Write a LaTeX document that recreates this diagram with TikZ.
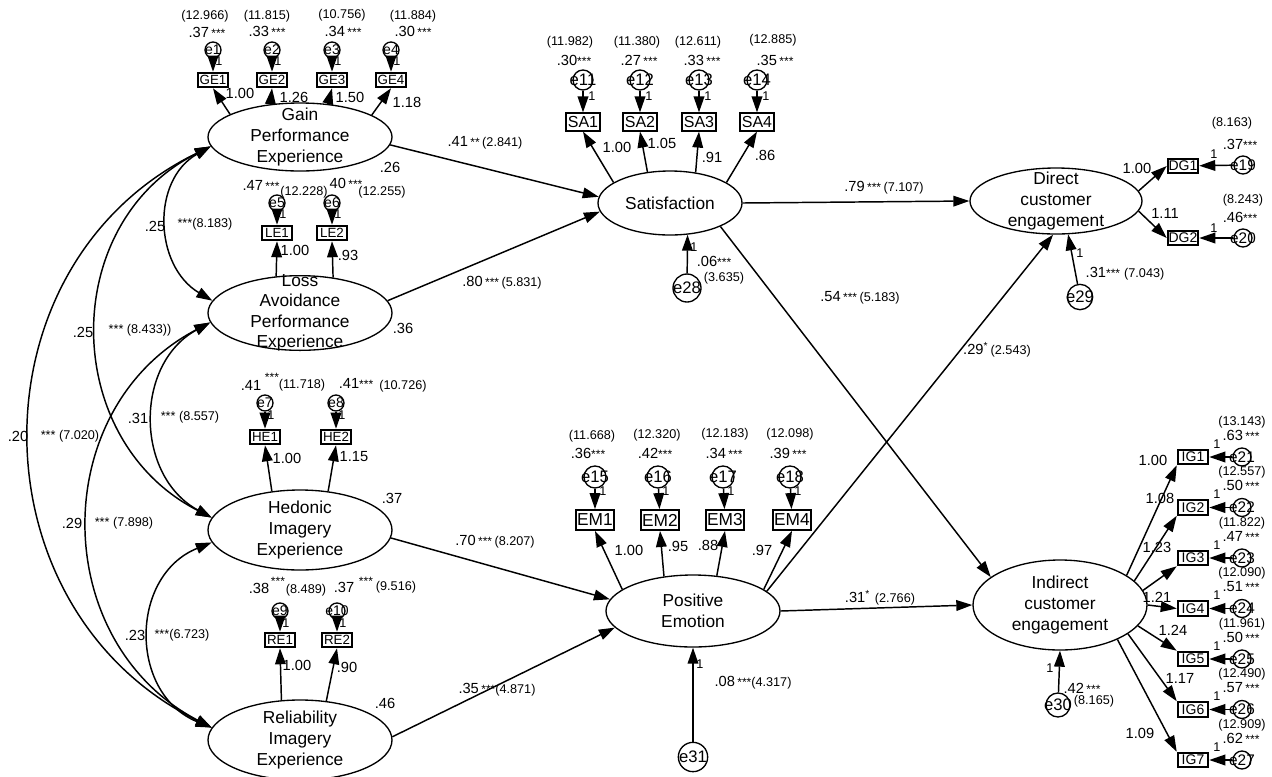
\documentclass[tikz,border=0pt]{standalone}
\usepackage{fontspec}
\setmainfont{Liberation Sans}
\usetikzlibrary{arrows.meta,shapes.geometric}
\newcommand\myfa{\fontsize{11}{13}\selectfont}
\newcommand\myfp{\fontsize{9.5}{11}\selectfont}
\newcommand\mystars{{\fontsize{9}{9}\selectfont ***}}
\begin{document}
\begin{tikzpicture}[x=0.75pt,y=-0.75pt,
 lat/.style={ellipse,draw,line width=1pt,inner sep=0pt},
 lt/.style={font=\fontsize{13}{15.4}\selectfont,align=center,inner sep=0pt},
 obs/.style={draw,line width=1.4pt,inner sep=0pt},
 gs/.style={obs,minimum width=23pt,minimum height=11pt,font=\fontsize{10}{10}\selectfont},
 sb/.style={obs,minimum width=26pt,minimum height=13pt,font=\fontsize{12}{12}\selectfont},
 eb/.style={obs,minimum width=28pt,minimum height=15pt,font=\fontsize{13}{13}\selectfont},
 ib/.style={obs,minimum width=23pt,minimum height=11pt,font=\fontsize{10.5}{10.5}\selectfont},
 err/.style={circle,draw,line width=1pt,inner sep=0pt},
 et/.style={inner sep=0pt},
 arr/.style={line width=1.1pt,-{Triangle[length=12pt,width=8pt]}},
 darr/.style={line width=1.1pt,{Triangle[length=12pt,width=8pt]}-{Triangle[length=12pt,width=8pt]}},
 ld/.style={font=\myfa,inner sep=0.5pt},
 pl/.style={font=\myfp,inner sep=0.5pt},
 one/.style={font=\fontsize{9.5}{10}\selectfont,inner sep=0pt}]
\fill[white] (0,0) rectangle (1272,776);
\useasboundingbox (0,0) rectangle (1272,776);

% latent variables
\node[lat,minimum width=138pt,minimum height=51pt,label={[lt]center:Gain\\Performance\\Experience}] (gain) at (300,137) {};
\node[lat,minimum width=138pt,minimum height=56pt,label={[lt]center:Loss\\Avoidance\\Performance\\Experience}] (loss) at (300,313) {};
\node[lat,minimum width=138pt,minimum height=60pt,label={[lt]center:Hedonic\\Imagery\\Experience}] (hed) at (300,530) {};
\node[lat,minimum width=138pt,minimum height=60pt,label={[lt]center:Reliability\\Imagery\\Experience}] (rel) at (300,740) {};
\node[lat,minimum width=108pt,minimum height=48pt,label={[lt]center:Satisfaction}] (sat) at (670,203) {};
\node[lat,minimum width=130.5pt,minimum height=54pt,label={[lt]center:Positive\\Emotion}] (pe) at (693,611) {};
\node[lat,minimum width=129pt,minimum height=49.5pt,label={[lt]center:Direct\\customer\\engagement}] (direct) at (1056,201) {};
\node[lat,minimum width=130.5pt,minimum height=67.5pt,label={[lt]center:Indirect\\customer\\engagement}] (ind) at (1060,605) {};

% GE indicators
\foreach \n/\x in {1/213,2/272,3/332,4/391}{
 \node[gs] (GE\n) at (\x,80) {GE\n};
 \node[err,minimum size=12pt,label={[et,font=\fontsize{10.5}{10.5}\selectfont]center:e\n}] (e\n) at (\x,50) {};
 \draw[arr] (e\n) -- (GE\n);
 \node[one] (oG\n) at (\x+6,61) {1};
}
\draw[arr] (gain.162) -- (GE1.south);
\draw[arr] (gain.132) -- (GE2.south);
\draw[arr] (gain.50) -- (GE3.south);
\draw[arr] (gain.17) -- (GE4.south);
\node[pl] (p1) at (205,16) {(12.966)};
\node[ld] (v1) at (207,32) {.37\,\mystars};
\node[pl] (p2) at (267,16) {(11.815)};
\node[ld] (v2) at (267,31) {.33\,\mystars};
\node[pl] (p3) at (342,15) {(10.756)};
\node[ld] (v3) at (343,31) {.34\,\mystars};
\node[pl] (p4) at (413,16) {(11.884)};
\node[ld] (v4) at (413,31) {.30\,\mystars};
\node[ld] (w1) at (240,93) {1.00};
\node[ld] (w2) at (294,97) {1.26};
\node[ld] (w3) at (350,97) {1.50};
\node[ld] (w4) at (407,102) {1.18};

% LE indicators
\node[gs] (LE1) at (277,233) {LE1};
\node[gs] (LE2) at (332,233) {LE2};
\node[err,minimum size=12pt,label={[et,font=\fontsize{10.5}{10.5}\selectfont]center:e5}] (e5) at (277,203) {};
\node[err,minimum size=12pt,label={[et,font=\fontsize{10.5}{10.5}\selectfont]center:e6}] (e6) at (332,203) {};
\draw[arr] (e5) -- (LE1);
\draw[arr] (e6) -- (LE2);
\draw[arr] (loss.123) -- (LE1.south);
\draw[arr] (loss.47) -- (LE2.south);
\node[one] (oL1) at (283,214) {1};
\node[one] (oL2) at (338,214) {1};
\node[ld] (v5) at (261,185) {.47\,\mystars};
\node[pl] (p5) at (304,192) {(12.228)};
\node[ld] (v6) at (346,183) {40\,\mystars};
\node[pl] (p6) at (382,192) {(12.255)};
\node[ld] (w5) at (295,250) {1.00};
\node[ld] (w6) at (348,255) {.93};

% HE indicators
\node[gs] (HE1) at (265,437) {HE1};
\node[gs] (HE2) at (336,437) {HE2};
\node[err,minimum size=12pt,label={[et,font=\fontsize{10.5}{10.5}\selectfont]center:e7}] (e7) at (265,403) {};
\node[err,minimum size=12pt,label={[et,font=\fontsize{10.5}{10.5}\selectfont]center:e8}] (e8) at (336,403) {};
\draw[arr] (e7) -- (HE1);
\draw[arr] (e8) -- (HE2);
\draw[arr] (hed.126) -- (HE1.south);
\draw[arr] (hed.54) -- (HE2.south);
\node[one] (oH1) at (271,415) {1};
\node[one] (oH2) at (342,415) {1};
\node[ld] (v7) at (251,385) {.41};
\node[ld] (s7) at (272,377) {\mystars};
\node[pl] (p7) at (302,385) {(11.718)};
\node[ld] (v8) at (356,383) {.41\mystars};
\node[pl] (p8) at (403,386) {(10.726)};
\node[ld] (w7) at (287,458) {1.00};
\node[ld] (w8) at (354,457) {1.15};

% RE indicators
\node[gs] (RE1) at (280,640) {RE1};
\node[gs] (RE2) at (337,640) {RE2};
\node[err,minimum size=12pt,label={[et,font=\fontsize{10.5}{10.5}\selectfont]center:e9}] (e9) at (280,611) {};
\node[err,minimum size=12pt,label={[et,font=\fontsize{10.5}{10.5}\selectfont]center:e10}] (e10) at (337,611) {};
\draw[arr] (e9) -- (RE1);
\draw[arr] (e10) -- (RE2);
\draw[arr] (rel.115) -- (RE1.south);
\draw[arr] (rel.56) -- (RE2.south);
\node[one] (oR1) at (286,623) {1};
\node[one] (oR2) at (343,623) {1};
\node[ld] (v9) at (259,588) {.38};
\node[ld] (s9) at (278,581) {\mystars};
\node[pl] (p9) at (306,590) {(8.489)};
\node[ld] (v10) at (344,587) {.37};
\node[ld] (s10) at (366,581) {\mystars};
\node[pl] (p10) at (396,587) {(9.516)};
\node[ld] (w9) at (297,665) {1.00};
\node[ld] (w10) at (347,667) {.90};

% latent variances
\node[ld] (r1) at (390,167) {.26};
\node[ld] (r2) at (403,328) {.36};
\node[ld] (r3) at (392,498) {.37};
\node[ld] (r4) at (385,703) {.46};

% covariances
\draw[darr] (gain.186) .. controls (151,180) and (154,266) .. (loss.172);
\draw[darr] (gain.186) .. controls (58,223) and (60,440) .. (hed.172);
\draw[darr] (gain.186) .. controls (-31,264) and (-29,609) .. (rel.172);
\draw[darr] (loss.186) .. controls (134,364) and (135,476) .. (hed.172);
\draw[darr] (loss.186) .. controls (47,408) and (48,642) .. (rel.172);
\draw[darr] (hed.188) .. controls (129,576) and (129,694) .. (rel.172);
\node[ld] (c1a) at (155,226) {.25};
\node[pl] (c1b) at (205,224) {***(8.183)};
\node[ld] (c2a) at (83,332) {.25};
\node[pl] (c2b) at (140,330) {*** (8.433))};
\node[ld] (c3a) at (18,436) {.20};
\node[pl] (c3b) at (70,436) {*** (7.020)};
\node[ld] (c4a) at (138,418) {.31};
\node[pl] (c4b) at (190,417) {*** (8.557)};
\node[ld] (c5a) at (72,523) {.29};
\node[pl] (c5b) at (124,523) {*** (7.898)};
\node[ld] (c6a) at (135,635) {.23};
\node[pl] (c6b) at (182,635) {***(6.723)};

% SA indicators
\foreach \n/\x/\e in {1/583/11,2/640/12,3/699/13,4/757/14}{
 \node[sb] (SA\n) at (\x,122) {SA\n};
 \node[err,minimum size=15pt,label={[et,font=\fontsize{12.5}{12.5}\selectfont]center:e\e}] (e\e) at (\x,80) {};
 \draw[arr] (e\e) -- (SA\n);
 \node[one] (oS\n) at (\x+9,96) {1};
}
\draw[arr] (sat.160) -- (SA1.south);
\draw[arr] (sat.126) -- (SA2.south);
\draw[arr] (sat.50) -- (SA3.south);
\draw[arr] (sat.20) -- (SA4.south);
\node[pl] (p11) at (570,42) {(11.982)};
\node[ld] (v11) at (574,60) {.30\mystars};
\node[pl] (p12) at (637,42) {(11.380)};
\node[ld] (v12) at (639,60) {.27\,\mystars};
\node[pl] (p13) at (698,42) {(12.611)};
\node[ld] (v13) at (702,60) {.33\,\mystars};
\node[pl] (p14) at (773,40) {(12.885)};
\node[ld] (v14) at (775,60) {.35\,\mystars};
\node[ld] (w11) at (617,147) {1.00};
\node[ld] (w12) at (662,143) {1.05};
\node[ld] (w13) at (712,157) {.91};
\node[ld] (w14) at (765,155) {.86};

\node[err,minimum size=21pt,label={[et,font=\fontsize{12.5}{12.5}\selectfont]center:e28}] (e28) at (687,288) {};
\draw[arr] (e28) -- (sat.-61);
\node[one] (o28) at (694,247) {1};
\node[ld] (v28) at (714,261) {.06\mystars};
\node[pl] (p28) at (724,278) {(3.635)};

% structural paths
\draw[arr] (gain.-5) -- (sat.175);
\draw[arr] (loss.8) -- (sat.187);
\draw[arr] (hed.-5) -- (pe.172);
\draw[arr] (rel.2) -- (pe.192);
\draw[arr] (sat.east) -- (direct.west);
\draw[arr] (sat.-25) -- (ind.158);
\draw[arr] (pe.15) -- (direct.-95);
\draw[arr] (pe.east) -- (ind.west);
\node[ld] (s1) at (485,143) {.41\,{\fontsize{9}{9}\selectfont **}\,{\myfp(2.841)}};
\node[ld] (s2) at (502,283) {.80\,\mystars\,{\myfp(5.831)}};
\node[ld] (s3) at (495,542) {.70\,\mystars\,{\myfp(8.207)}};
\node[ld] (s4) at (497,690) {.35\,\mystars{\myfp(4.871)}};
\node[ld] (s5) at (884,188) {.79\,\mystars\,{\myfp(7.107)}};
\node[ld] (s6) at (860,298) {.54\,\mystars\,{\myfp(5.183)}};
\node[ld] (s7b) at (997,350) {.29\textsuperscript{*}\,{\myfp(2.543)}};
\node[ld] (s8) at (880,598) {.31\textsuperscript{*}\,\,{\myfp(2.766)}};

% EM indicators
\foreach \n/\x/\ex/\e in {1/595/595/15,2/660/658/16,3/725/723/17,4/792/790/18}{
 \node[eb] (EM\n) at (\x,520) {EM\n};
 \node[err,minimum size=16.5pt,label={[et,font=\fontsize{12.5}{12.5}\selectfont]center:e\e}] (e\e) at (\ex,477) {};
 \draw[arr] (e\e) -- (EM\n);
 \node[one] (oE\n) at (\ex+8,491) {1};
}
\draw[arr] (pe.163) -- (EM1.south);
\draw[arr] (pe.130) -- (EM2.south);
\draw[arr] (pe.56) -- (EM3.south);
\draw[arr] (pe.17) -- (EM4.south);
\node[pl] (p15) at (592,436) {(11.668)};
\node[ld] (v15) at (588,453) {.36\mystars};
\node[pl] (p16) at (657,435) {(12.320)};
\node[ld] (v16) at (655,453) {.42\mystars};
\node[pl] (p17) at (725,434) {(12.183)};
\node[ld] (v17) at (724,453) {.34\,\mystars};
\node[pl] (p18) at (790,434) {(12.098)};
\node[ld] (v18) at (788,453) {.39\,\mystars};
\node[ld] (w15) at (629,550) {1.00};
\node[ld] (w16) at (678,546) {.95};
\node[ld] (w17) at (708,545) {.88};
\node[ld] (w18) at (762,550) {.97};

\node[err,minimum size=22pt,label={[et,font=\fontsize{12.5}{12.5}\selectfont]center:e31}] (e31) at (693,757) {};
\draw[arr] (e31) -- (pe.south);
\node[one] (o31) at (700,664) {1};
\node[ld] (v31) at (753,683) {.08\,\mystars{\myfp(4.317)}};

% Direct indicators
\node[ib] (DG1) at (1183,166) {DG1};
\node[ib] (DG2) at (1183,238) {DG2};
\node[err,minimum size=13.5pt,label={[et,font=\fontsize{11.5}{11.5}\selectfont]center:e19}] (e19) at (1243,165) {};
\node[err,minimum size=13.5pt,label={[et,font=\fontsize{11.5}{11.5}\selectfont]center:e20}] (e20) at (1243,238) {};
\draw[arr] (e19) -- (DG1);
\draw[arr] (e20) -- (DG2);
\draw[arr] (direct.7) -- (DG1.west);
\draw[arr] (direct.-7) -- (DG2.west);
\node[ld] (w19) at (1137,168) {1.00};
\node[ld] (w20) at (1165,213) {1.11};
\node[pl] (p19) at (1232,123) {(8.163)};
\node[ld] (v19) at (1240,144) {.37\mystars};
\node[one] (o19) at (1214,154) {1};
\node[pl] (p20) at (1243,200) {(8.243)};
\node[ld] (v20) at (1240,217) {.46\mystars};
\node[one] (o20) at (1214,228) {1};
\node[err,minimum size=19pt,label={[et,font=\fontsize{12.5}{12.5}\selectfont]center:e29}] (e29) at (1080,297) {};
\draw[arr] (e29) -- (direct.-70);
\node[one] (o29) at (1080,253) {1};
\node[ld] (v29) at (1125,274) {.31\mystars\ {\myfp(7.043)}};

% Indirect indicators
\foreach \k/\y/\e/\p/\v in {1/457/21/13.143/.63,2/507.5/22/12.557/.50,3/558/23/11.822/.47,4/608.5/24/12.090/.51,5/659/25/11.961/.50,6/709.5/26/12.490/.57,7/760/27/12.909/.62}{
 \node[ib] (IG\k) at (1193,\y) {IG\k};
 \node[err,minimum size=13.5pt,label={[et,font=\fontsize{11.5}{11.5}\selectfont]center:e\e}] (e\e) at (1242,\y) {};
 \draw[arr] (e\e) -- (IG\k);
 \node[pl] (pI\k) at (1242,\y-35) {(\p)};
 \node[ld] (vI\k) at (1241,\y-22) {\v\,\mystars};
 \node[one] (oI\k) at (1217,\y-13) {1};
}
\draw[arr] (ind.24) -- (IG1.south west);
\draw[arr] (ind.18) -- (IG2.south west);
\draw[arr] (ind.10) -- (IG3.south west);
\draw[arr] (ind.east) -- (IG4.west);
\draw[arr] (ind.-15) -- (IG5.north west);
\draw[arr] (ind.-23) -- (IG6.north west);
\draw[arr] (ind.-31) -- (IG7.north west);
\node[ld] (wI1) at (1153,460) {1.00};
\node[ld] (wI2) at (1160,498) {1.08};
\node[ld] (wI3) at (1157,547) {1.23};
\node[ld] (wI4) at (1157,597) {1.21};
\node[ld] (wI5) at (1173,630) {1.24};
\node[ld] (wI6) at (1180,678) {1.17};
\node[ld] (wI7) at (1140,733) {1.09};
\node[err,minimum size=18pt,label={[et,font=\fontsize{12.5}{12.5}\selectfont]center:e30}] (e30) at (1058,705) {};
\draw[arr] (e30) -- (ind.south);
\node[one] (o30) at (1050,668) {1};
\node[ld] (v30) at (1082,688) {.42\,\mystars};
\node[pl] (p30) at (1094,701) {(8.165)};
\end{tikzpicture}
\end{document}
